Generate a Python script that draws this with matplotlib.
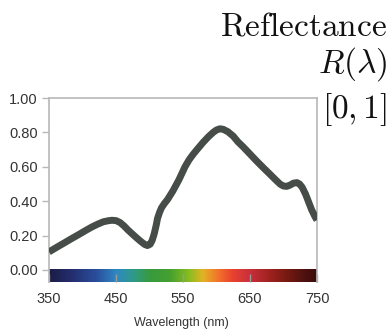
import numpy as np
import matplotlib
matplotlib.use("Agg")
import matplotlib.pyplot as plt
from matplotlib.colors import LinearSegmentedColormap

wavelength = [350, 362, 374, 384, 394, 404, 414, 423, 431, 438, 444, 450, 456,
              462, 468, 475, 481, 487, 493, 497, 501, 504, 507, 510, 512, 515,
              518, 522, 527, 535, 544, 553, 559, 565, 572, 580, 588, 595, 600,
              605, 610, 617, 625, 632, 640, 650, 660, 670, 680, 688, 695, 700,
              705, 710, 715, 720, 724, 728, 733, 737, 742, 747, 750]
reflectance = [0.105, 0.133, 0.160, 0.183, 0.205, 0.228, 0.250, 0.267, 0.280,
               0.286, 0.289, 0.287, 0.276, 0.256, 0.232, 0.207, 0.186, 0.166,
               0.148, 0.142, 0.150, 0.172, 0.210, 0.260, 0.300, 0.335, 0.362,
               0.385, 0.410, 0.460, 0.525, 0.600, 0.640, 0.672, 0.705, 0.742,
               0.775, 0.800, 0.814, 0.821, 0.818, 0.804, 0.778, 0.745, 0.715,
               0.674, 0.633, 0.594, 0.556, 0.525, 0.499, 0.488, 0.486, 0.494,
               0.505, 0.508, 0.500, 0.480, 0.440, 0.400, 0.350, 0.310, 0.290]
xticks = [350, 450, 550, 650, 750]
yticks = [0.0, 0.2, 0.4, 0.6, 0.8, 1.0]
ytick_labels = ["0.00", "0.20", "0.40", "0.60", "0.80", "1.00"]

spec_stops = [(350, "#1b1d45"), (380, "#242c6c"), (420, "#2a4e9c"), (450, "#2f88c2"),
              (475, "#2e9a8a"), (500, "#389a3e"), (530, "#44a030"), (560, "#8cbd20"),
              (580, "#e2b324"), (600, "#f37a2a"), (625, "#e8412f"), (650, "#c8303c"),
              (680, "#a0221e"), (705, "#781a12"), (730, "#521210"), (750, "#3a0c0c")]

W, H = 388, 333
fig = plt.figure(figsize=(W/100, H/100), dpi=100)
ax = fig.add_axes([49/W, 1-282/H, (317-49)/W, (282-98)/H])

cmap = LinearSegmentedColormap.from_list(
    "spec", [((w-350)/400, c) for w, c in spec_stops])
grad = np.linspace(0, 1, 400).reshape(1, -1)
ax.imshow(grad, extent=[350, 750, -0.07, 0.0], aspect="auto", cmap=cmap,
          interpolation="bilinear", zorder=1)

ax.plot(wavelength, reflectance, color="#464c48", lw=5.0,
        solid_joinstyle="round", solid_capstyle="butt", zorder=3)

ax.set_xlim(350, 750)
ax.set_ylim(-0.07, 1.0)
ax.set_xticks(xticks)
ax.set_xticklabels([str(t) for t in xticks])
ax.set_yticks(yticks)
ax.set_yticklabels(ytick_labels)

for s in ["left", "right", "top"]:
    ax.spines[s].set_color("#b8b8b8")
    ax.spines[s].set_linewidth(1.2)
ax.spines["bottom"].set_visible(False)

ax.tick_params(axis="y", direction="out", length=5, width=1, color="#b8b8b8",
               labelsize=10.5, labelcolor="#333333", pad=3)
ax.tick_params(axis="x", direction="in", length=6, width=1, color="#9a9a9a",
               labelsize=10.5, labelcolor="#333333", pad=7)
for lab in ax.get_xticklabels() + ax.get_yticklabels():
    lab.set_fontfamily("Liberation Sans")

fig.text(181/W, 1-323/H, "Wavelength (nm)", ha="center", va="center",
         fontsize=9, color="#333333", family="Liberation Sans")

plt.rcParams["mathtext.fontset"] = "cm"
fig.text(387/W, 1-35/H, r"$\mathrm{Reflectance}$", ha="right", va="baseline",
         fontsize=24, color="#111111")
fig.text(387/W, 1-73/H, r"$R(\lambda)$", ha="right", va="baseline",
         fontsize=24, color="#111111")
fig.text(387/W, 1-118/H, r"$[0,1]$", ha="right", va="baseline",
         fontsize=24, color="#111111")

fig.savefig("out.png", dpi=100)
